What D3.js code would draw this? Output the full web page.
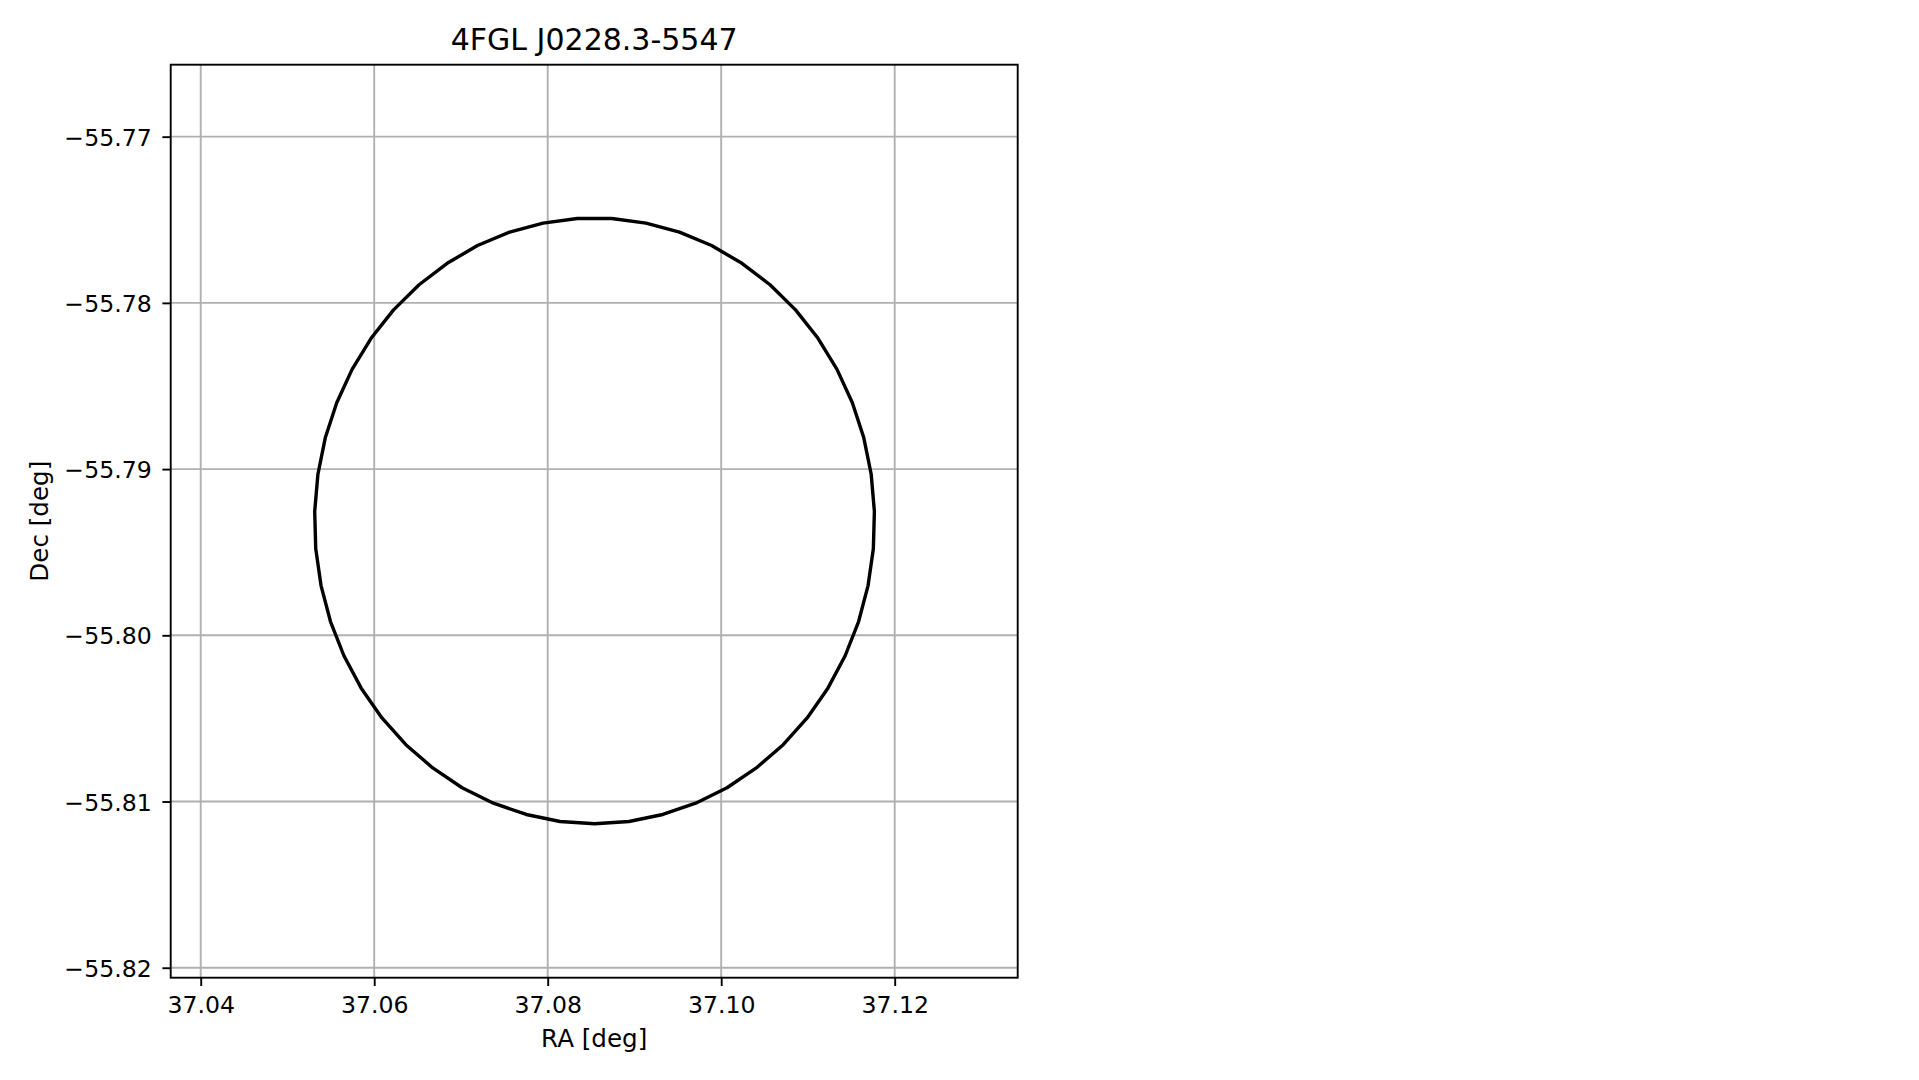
<!DOCTYPE html>
<html>
<head>
<meta charset="utf-8">
<script src="https://cdn.jsdelivr.net/npm/d3@7"></script>
<style>
body { margin: 0; background: #fff; }
text { font-family: "DejaVu Sans", sans-serif; fill: #000; }
</style>
</head>
<body>
<svg id="chart"></svg>
<script>
// source position circle, RA / Dec vertices in degrees
var raValues = [
	37.08739, 37.09133, 37.09519, 37.09889, 37.10239, 37.10563, 37.10857, 37.11116, 37.11335,
	37.11512, 37.11644, 37.11729, 37.11766, 37.11754, 37.11693, 37.11584, 37.11429, 37.11230,
	37.10991, 37.10715, 37.10405, 37.10067, 37.09706, 37.09327, 37.08937, 37.08540, 37.08143,
	37.07753, 37.07374, 37.07013, 37.06675, 37.06365, 37.06089, 37.05850, 37.05651, 37.05496,
	37.05387, 37.05326, 37.05314, 37.05351, 37.05436, 37.05568, 37.05745, 37.05964, 37.06223,
	37.06517, 37.06841, 37.07191, 37.07561, 37.07947, 37.08341, 37.08739
];
var decValues = [
	-55.77492, -55.77520, -55.77574, -55.77655, -55.77762, -55.77891, -55.78042, -55.78213, -55.78400,
	-55.78601, -55.78812, -55.79031, -55.79255, -55.79479, -55.79701, -55.79917, -55.80123, -55.80318,
	-55.80497, -55.80658, -55.80798, -55.80917, -55.81010, -55.81078, -55.81120, -55.81134, -55.81120,
	-55.81078, -55.81010, -55.80917, -55.80798, -55.80658, -55.80497, -55.80318, -55.80123, -55.79917,
	-55.79701, -55.79479, -55.79255, -55.79031, -55.78812, -55.78601, -55.78400, -55.78213, -55.78042,
	-55.77891, -55.77762, -55.77655, -55.77574, -55.77520, -55.77492, -55.77492
];
var raTicks = [37.04, 37.06, 37.08, 37.10, 37.12];
var decTicks = [-55.82, -55.81, -55.80, -55.79, -55.78, -55.77];
var raDomain = [37.03654, 37.13418];
var decDomain = [-55.8206, -55.76567];
var titleText = "4FGL J0228.3-5547";

function drawCircle() {
	var svgWidth = 1919, svgHeight = 1080;
	var margin = { top: 64.7, right: 901.3, bottom: 102.3, left: 170.7 };
	var width = svgWidth - margin.left - margin.right;
	var height = svgHeight - margin.top - margin.bottom;
	var fs = 23.6, lw = 1.9, tick = 8.3;

	var data = [];
	for (var i = 0; i < raValues.length; i++) {
		data.push({ ra: raValues[i], dec: decValues[i] });
	}

	var svg = d3.select("#chart")
	.attr("width", svgWidth)
	.attr("height", svgHeight);

	var g = svg.append("g")
	.attr("transform", "translate(" + margin.left + "," + margin.top + ")");

	var x = d3.scaleLinear().domain(raDomain).range([0, width]);
	var y = d3.scaleLinear().domain(decDomain).range([height, 0]);

	// grid
	g.append("g")
	.selectAll("line")
	.data(raTicks)
	.enter().append("line")
	.attr("x1", function(d) { return x(d) })
	.attr("x2", function(d) { return x(d) })
	.attr("y1", 0)
	.attr("y2", height)
	.attr("stroke", "#b0b0b0")
	.attr("stroke-width", lw);

	g.append("g")
	.selectAll("line")
	.data(decTicks)
	.enter().append("line")
	.attr("x1", 0)
	.attr("x2", width)
	.attr("y1", function(d) { return y(d) })
	.attr("y2", function(d) { return y(d) })
	.attr("stroke", "#b0b0b0")
	.attr("stroke-width", lw);

	var line = d3.line()
	.x(function(d) { return x(d.ra) })
	.y(function(d) { return y(d.dec) });

	g.append("path")
	.datum(data)
	.attr("fill", "none")
	.attr("stroke", "#000")
	.attr("stroke-width", 3.4)
	.attr("stroke-linejoin", "round")
	.attr("d", line);

	// axes
	var xAxis = g.append("g")
	.attr("transform", "translate(0," + height + ")")
	.call(d3.axisBottom(x).tickValues(raTicks).tickFormat(d3.format(".2f")).tickSize(tick).tickPadding(10.5));
	xAxis.select(".domain").remove();

	var yAxis = g.append("g")
	.call(d3.axisLeft(y).tickValues(decTicks).tickFormat(d3.format(".2f")).tickSize(tick).tickPadding(10.7));
	yAxis.select(".domain").remove();

	g.selectAll(".tick line").attr("stroke", "#000").attr("stroke-width", lw);
	g.selectAll(".tick text")
	.attr("font-family", "DejaVu Sans")
	.attr("font-size", fs)
	.attr("fill", "#000");
	yAxis.selectAll(".tick text").attr("dy", "0.36em");

	g.append("rect")
	.attr("width", width)
	.attr("height", height)
	.attr("fill", "none")
	.attr("stroke", "#000")
	.attr("stroke-width", lw);

	// labels
	svg.append("text")
	.attr("x", margin.left + width / 2)
	.attr("y", 50)
	.attr("text-anchor", "middle")
	.attr("font-size", 30)
	.text(titleText);

	svg.append("text")
	.attr("x", margin.left + width / 2)
	.attr("y", 1047)
	.attr("text-anchor", "middle")
	.attr("font-size", 24.6)
	.text("RA [deg]");

	svg.append("text")
	.attr("transform", "translate(48," + (margin.top + height / 2) + ") rotate(-90)")
	.attr("text-anchor", "middle")
	.attr("font-size", 24.6)
	.text("Dec [deg]");
}

drawCircle();
</script>
</body>
</html>
